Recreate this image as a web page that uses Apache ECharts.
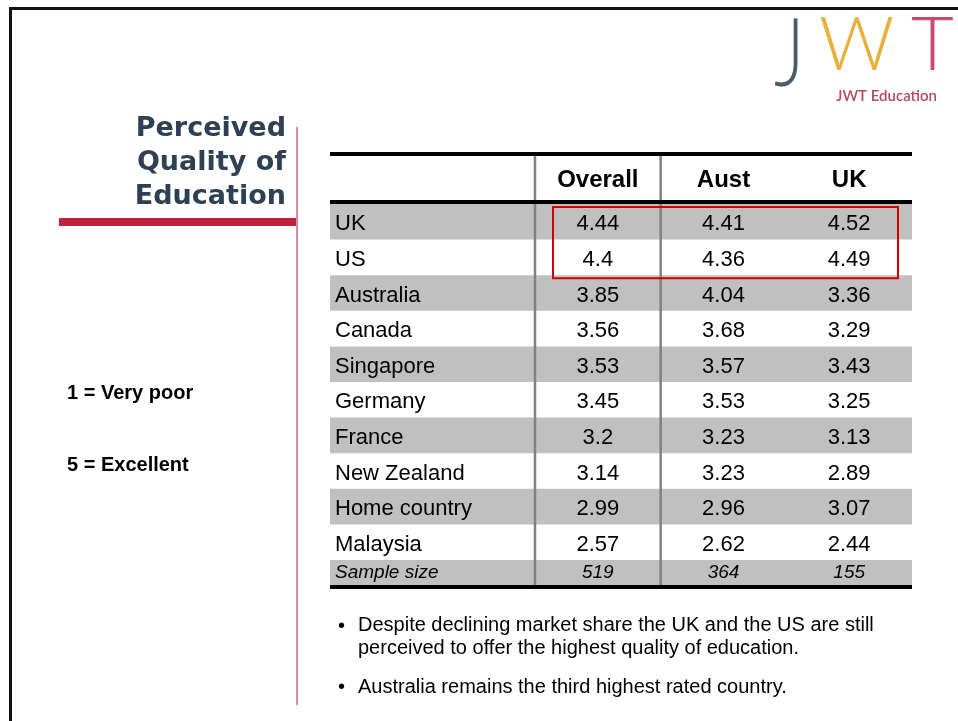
<!DOCTYPE html>
<html>
<head>
<meta charset="utf-8">
<script src="https://cdn.jsdelivr.net/npm/echarts@6/dist/echarts.min.js"></script>
<style>
  html, body { margin: 0; padding: 0; background: #fff; }
  #chart { width: 958px; height: 721px; }
</style>
</head>
<body>
<div id="chart"></div>
<script>
// table data
const countries = ['UK', 'US', 'Australia', 'Canada', 'Singapore', 'Germany', 'France', 'New Zealand', 'Home country', 'Malaysia']
const columns = ['Overall', 'Aust', 'UK']
const overall = [4.44, 4.4, 3.85, 3.56, 3.53, 3.45, 3.2, 3.14, 2.99, 2.57]
const aust = [4.41, 4.36, 4.04, 3.68, 3.57, 3.53, 3.23, 3.23, 2.96, 2.62]
const ukStudents = [4.52, 4.49, 3.36, 3.29, 3.43, 3.25, 3.13, 2.89, 3.07, 2.44]
const sampleLabel = ['Sample size']
const sampleSizes = [519, 364, 155]

const FONT = 'Liberation Sans, Arial, sans-serif'
const LABEL_COL = 205   // width of the country column, left of the grid

const valueCells = []
countries.forEach((c, i) => {
  valueCells.push([0, i, overall[i]])
  valueCells.push([1, i, aust[i]])
  valueCells.push([2, i, ukStudents[i]])
})
const sampleCells = sampleSizes.map((v, j) => [j, 0, v])

const chart = echarts.init(document.getElementById('chart'))

// grey bands on alternating rows, running under the label column too
const renderBand = (params, api) => {
  const i = api.value(1)
  if (i % 2 === 1) return null
  const cs = params.coordSys
  const y = api.coord([0, i])[1]
  const h = api.size([0, 1])[1]
  return {
    type: 'rect',
    shape: { x: cs.x - LABEL_COL, y: y - h / 2, width: cs.width + LABEL_COL, height: h },
    style: { fill: '#c0c0c0' }
  }
}

// country names, left aligned in the label column
const renderCountry = (params, api) => {
  const i = api.value(1)
  const cs = params.coordSys
  const y = api.coord([0, i])[1]
  return {
    type: 'text',
    x: cs.x - LABEL_COL + 5,
    y: y + 2.5,
    style: {
      text: countries[i],
      align: 'left',
      verticalAlign: 'middle',
      fontSize: 22,
      fontFamily: FONT,
      fill: '#000'
    }
  }
}

const textCell = (size, italic, dy) => (params, api) => {
  const pt = api.coord([api.value(0), api.value(1)])
  return {
    type: 'text',
    x: pt[0],
    y: pt[1] + dy,
    style: {
      text: String(api.value(2)),
      align: 'center',
      verticalAlign: 'middle',
      fontSize: size,
      fontStyle: italic ? 'italic' : 'normal',
      fontFamily: FONT,
      fill: '#000'
    }
  }
}

// rules, column separators and the red highlight box
const renderRules = (params, api) => {
  const cs = params.coordSys
  const bandW = api.size([1, 0])[0]
  const bandH = api.size([0, 1])[1]
  const left = cs.x - LABEL_COL
  const w = cs.width + LABEL_COL
  const top0 = api.coord([0, 0])[1] - bandH / 2
  const bottom1 = api.coord([0, 1])[1] + bandH / 2
  const vline = x => ({
    type: 'line',
    shape: { x1: x, y1: cs.y - 49, x2: x, y2: cs.y + cs.height + 25 },
    style: { stroke: '#808080', lineWidth: 2.5 }
  })
  return {
    type: 'group',
    children: [
      vline(cs.x),
      vline(cs.x + bandW),
      { type: 'rect', shape: { x: left, y: cs.y - 52, width: w, height: 4 }, style: { fill: '#000' } },
      { type: 'rect', shape: { x: left, y: cs.y - 4, width: w, height: 4 }, style: { fill: '#000' } },
      {
        type: 'rect',
        shape: { x: cs.x + 18, y: top0 + 3, width: cs.width - 32, height: bottom1 - top0 },
        style: { fill: 'none', stroke: '#d40000', lineWidth: 2 }
      }
    ]
  }
}

const renderBottom = (params, api) => {
  const cs = params.coordSys
  return {
    type: 'rect',
    shape: { x: cs.x - LABEL_COL, y: cs.y + cs.height, width: cs.width + LABEL_COL, height: 4 },
    style: { fill: '#000' }
  }
}

const option = {
  backgroundColor: '#fff',
  animation: false,
  grid: [
    { left: 535, top: 204, width: 377, height: 356 },
    { left: 535, top: 560, width: 377, height: 25 }
  ],
  xAxis: [
    {
      gridIndex: 0,
      type: 'category',
      data: columns,
      position: 'top',
      z: 10,
      axisLine: { show: false },
      axisTick: { show: false },
      axisLabel: { fontSize: 24, fontWeight: 'bold', color: '#000', fontFamily: FONT, margin: 12 }
    },
    { gridIndex: 1, type: 'category', data: columns, show: false }
  ],
  yAxis: [
    {
      gridIndex: 0,
      type: 'category',
      data: countries,
      inverse: true,
      axisLine: { show: false },
      axisTick: { show: false },
      axisLabel: { show: false }
    },
    {
      gridIndex: 1,
      type: 'category',
      data: sampleLabel,
      z: 10,
      axisLine: { show: false },
      axisTick: { show: false },
      axisLabel: { align: 'left', margin: 200, fontSize: 19, fontStyle: 'italic', color: '#000', fontFamily: FONT }
    }
  ],
  series: [
    {
      type: 'custom', xAxisIndex: 0, yAxisIndex: 0, z: 1,
      data: countries.map((c, i) => [0, i]),
      renderItem: renderBand
    },
    {
      type: 'custom', xAxisIndex: 1, yAxisIndex: 1, z: 1,
      data: [[0, 0]],
      renderItem: (params, api) => {
        const cs = params.coordSys
        return {
          type: 'rect',
          shape: { x: cs.x - LABEL_COL, y: cs.y, width: cs.width + LABEL_COL, height: cs.height },
          style: { fill: '#c0c0c0' }
        }
      }
    },
    {
      type: 'custom', xAxisIndex: 0, yAxisIndex: 0, z: 2,
      data: [[0, 0]],
      renderItem: renderRules
    },
    {
      type: 'custom', xAxisIndex: 1, yAxisIndex: 1, z: 2,
      data: [[0, 0]],
      renderItem: renderBottom
    },
    {
      type: 'custom', xAxisIndex: 0, yAxisIndex: 0, z: 3,
      data: countries.map((c, i) => [0, i]),
      renderItem: renderCountry
    },
    {
      type: 'custom', xAxisIndex: 0, yAxisIndex: 0, z: 3,
      data: valueCells,
      renderItem: textCell(22, false, 2.5)
    },
    {
      type: 'custom', xAxisIndex: 1, yAxisIndex: 1, z: 3,
      data: sampleCells,
      renderItem: textCell(19, true, 0)
    }
  ],
  graphic: [
    // slide frame
    { type: 'rect', z: 100, shape: { x: 10.5, y: 8.5, width: 1000, height: 800 }, style: { fill: 'none', stroke: '#111', lineWidth: 3 } },
    // logo
    { type: 'text', x: 774, y: 9, scaleY: 1.27, style: { text: 'J', fontSize: 74, fontWeight: 300, fontFamily: 'Lato', fill: '#4b5b6b' } },
    { type: 'text', x: 819, y: 9, style: { text: 'W', fontSize: 74, fontWeight: 300, fontFamily: 'Lato', fill: '#e8b13c' } },
    { type: 'text', x: 911, y: 9, style: { text: 'T', fontSize: 74, fontWeight: 300, fontFamily: 'Lato', fill: '#c94a6c' } },
    { type: 'text', x: 836, y: 96, style: { text: 'JWT Education', fontSize: 15, fontWeight: 600, fontFamily: 'Lato', fill: '#b5485a', verticalAlign: 'middle' } },
    // side title
    {
      type: 'text', x: 286, y: 112,
      style: {
        text: 'Perceived\nQuality of\nEducation',
        align: 'right', verticalAlign: 'top',
        fontSize: 27, fontWeight: 'bold', fontFamily: 'DejaVu Sans', lineHeight: 34, fill: '#2e4053'
      }
    },
    { type: 'rect', shape: { x: 59, y: 218, width: 238, height: 8 }, style: { fill: '#c0213f' } },
    { type: 'rect', shape: { x: 296, y: 127, width: 2, height: 578 }, style: { fill: '#d98ba0' } },
    { type: 'text', x: 67, y: 393, style: { text: '1 = Very poor', fontSize: 20, fontWeight: 'bold', fontFamily: FONT, fill: '#000', verticalAlign: 'middle' } },
    { type: 'text', x: 67, y: 465, style: { text: '5 = Excellent', fontSize: 20, fontWeight: 'bold', fontFamily: FONT, fill: '#000', verticalAlign: 'middle' } },
    // commentary
    { type: 'text', x: 338, y: 626, style: { text: '•', fontSize: 20, fontFamily: FONT, fill: '#000', verticalAlign: 'middle' } },
    {
      type: 'text', x: 358, y: 614,
      style: {
        text: 'Despite declining market share the UK and the US are still\nperceived to offer the highest quality of education.',
        fontSize: 20, fontFamily: FONT, fill: '#000', lineHeight: 23, verticalAlign: 'top'
      }
    },
    { type: 'text', x: 338, y: 687, style: { text: '•', fontSize: 20, fontFamily: FONT, fill: '#000', verticalAlign: 'middle' } },
    { type: 'text', x: 358, y: 687, style: { text: 'Australia remains the third highest rated country.', fontSize: 20, fontFamily: FONT, fill: '#000', verticalAlign: 'middle' } }
  ]
}

chart.setOption(option)
</script>
</body>
</html>
